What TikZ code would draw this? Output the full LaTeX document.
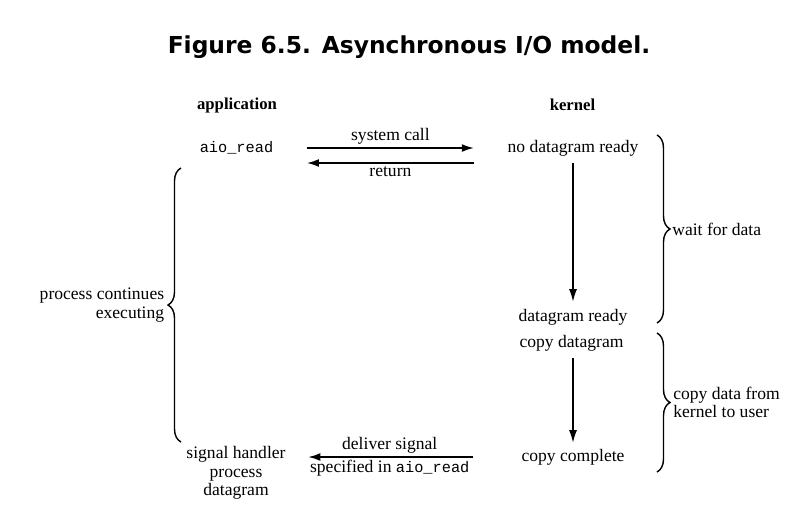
\documentclass[tikz,border=0pt]{standalone}
\usepackage{fontspec}
\setmainfont{Liberation Serif}
\setmonofont{Liberation Mono}
\newfontfamily\titlefont{DejaVu Sans}
\usepackage{tikz}
\usetikzlibrary{arrows.meta, decorations.pathreplacing}
\newcommand\fname[1]{{\fontsize{8.7}{10}\selectfont\ttfamily #1}}

\begin{document}
\begin{tikzpicture}[
  txt/.style={font=\fontsize{10}{10.5}\selectfont, align=center, inner sep=1.5pt},
  head/.style={font=\fontsize{9.5}{11}\selectfont\bfseries, inner sep=1.5pt},
  arrow/.style={-{Latex[length=7pt,width=4.5pt]}, line width=1.1pt},
  down/.style={-{Latex[length=7pt,width=4.5pt]}, line width=0.7pt},
  curly/.style={decorate, decoration={brace, amplitude=0.26cm}, line width=0.8pt}
]
\useasboundingbox (0,0) rectangle (15.76,-10.44);
\node[font=\titlefont\fontsize{13.3}{16}\selectfont\bfseries] (title) at (8.18,-0.95) {Figure 6.5. Asynchronous I/O model.};
\node[head] (app)     at (4.74,-2.10)  {application};
\node[head] (kern)    at (11.45,-2.10) {kernel};
\node[txt]  (aio)     at (4.73,-2.96)  {\fname{aio\_read}};
\node[txt]  (nodata)  at (11.46,-2.96) {no datagram ready};
\node[txt]  (dready)  at (11.46,-6.34) {datagram ready};
\node[txt]  (cpdg)    at (11.43,-6.86) {copy datagram};
\node[txt]  (cpdone)  at (11.46,-9.14) {copy complete};
\node[txt]  (sighand) at (4.72,-9.46)  {signal handler\\process\\datagram};
\draw[arrow, shorten <=0.61cm, shorten >=0.61cm] (aio.east) -- node[txt, above] (call) {system call} (nodata.west);
\draw[arrow, shorten <=0.61cm, shorten >=0.61cm] ([yshift=-0.3cm]nodata.west) -- node[txt, below] (ret) {return} ([yshift=-0.3cm]aio.east);
\draw[down, shorten <=0.09cm, shorten >=0.09cm] (nodata.south) -- (nodata.south |- dready.north);
\draw[down, shorten <=0.09cm, shorten >=0.07cm] (cpdone.north |- cpdg.south) -- (cpdone.north);
\draw[arrow, shorten <=0.91cm, shorten >=0.39cm] (cpdone.west) -- node[txt, above, pos=0.56] (deliver) {deliver signal} node[txt, below, pos=0.56] (spec) {specified in \fname{aio\_read}} (cpdone.west -| sighand.east);
\draw[curly] (3.62,-8.84) -- node[txt, left=0.27cm, align=right] (cont) {process continues\\executing} (3.62,-3.36);
\draw[curly] (13.14,-2.70) -- node[txt, right=0.24cm] (wait) {wait for data} (13.14,-6.46);
\draw[curly] (13.14,-6.66) -- node[txt, right=0.26cm, align=left] (copy) {copy data from\\kernel to user} (13.14,-9.44);
\end{tikzpicture}
\end{document}
